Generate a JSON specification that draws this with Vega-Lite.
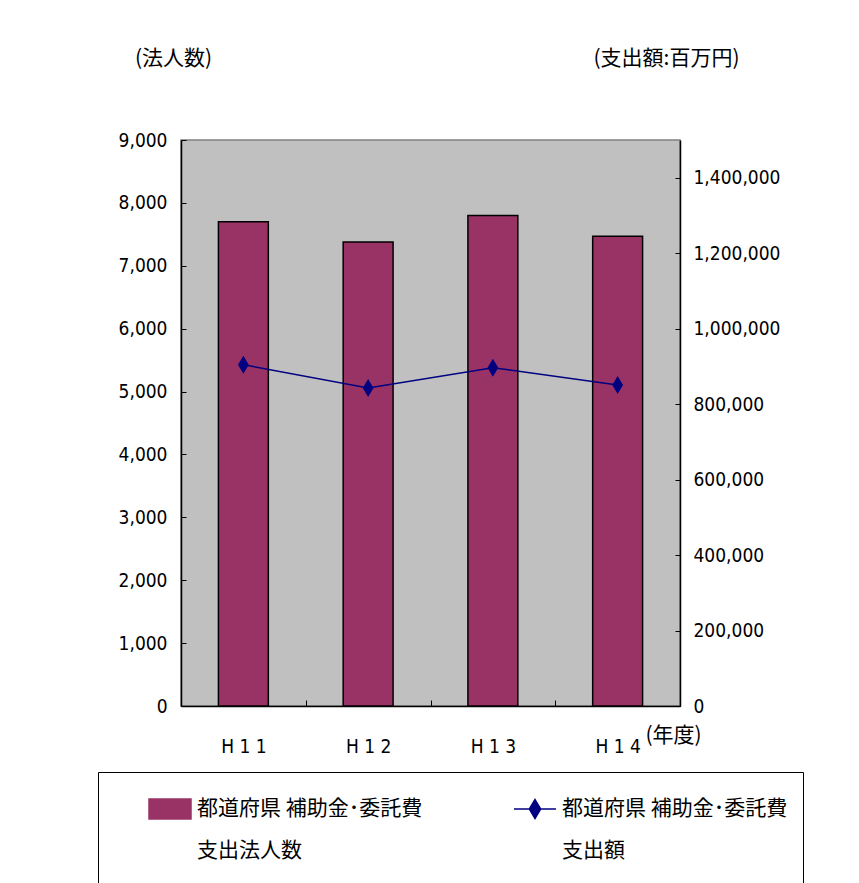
{
  "$schema": "https://vega.github.io/schema/vega-lite/v6.json",
  "width": 499,
  "height": 566,
  "autosize": {"type": "none"},
  "padding": {"left": 181, "top": 140, "right": 179, "bottom": 177},
  "background": "white",
  "config": {
    "view": {"fill": "#C0C0C0", "stroke": "#808080", "strokeWidth": 1.5},
    "style": {"guide-label": {"lineHeight": 42}},
    "axis": {
      "labelFont": "Liberation Sans Narrow, DejaVu Sans Condensed, sans-serif",
      "labelFontSize": 19,
      "labelColor": "black",
      "titleFont": "Noto Sans CJK JP",
      "titleFontSize": 21,
      "titleFontWeight": "normal",
      "titleColor": "black",
      "domainColor": "black",
      "domainWidth": 1.5,
      "tickColor": "black",
      "tickWidth": 1,
      "grid": false
    },
    "legend": {
      "symbolSize": 1764,
      "symbolStrokeWidth": 1.5
    }
  },
  "data": {
    "values": [
      {"year": "H11", "count": 7700, "amount": 904500},
      {"year": "H12", "count": 7380, "amount": 842700},
      {"year": "H13", "count": 7800, "amount": 896600},
      {"year": "H14", "count": 7470, "amount": 850700}
    ]
  },
  "encoding": {
    "x": {
      "field": "year",
      "type": "nominal",
      "sort": null,
      "scale": {"paddingInner": 0, "paddingOuter": 0},
      "axis": {
        "title": "(年度)",
        "titleX": 492,
        "titleY": 29,
        "titleAlign": "center",
        "titleBaseline": "middle",
        "labelAngle": 0,
        "labelBaseline": "top",
        "labelExpr": "join(split(datum.label, ''), ' ')",
        "tickBand": "extent",
        "tickSize": -6,
        "labelPadding": 37
      }
    }
  },
  "layer": [
    {
      "mark": {"type": "bar", "width": {"band": 0.4}, "stroke": "black", "strokeWidth": 1.5},
      "encoding": {
        "y": {
          "field": "count",
          "type": "quantitative",
          "scale": {"domain": [0, 9000]},
          "axis": {
            "title": "(法人数)",
            "titleAngle": 0,
            "titleX": -8,
            "titleY": -82,
            "titleAlign": "center",
            "titleBaseline": "middle",
            "values": [0, 1000, 2000, 3000, 4000, 5000, 6000, 7000, 8000, 9000],
            "format": ",.0f",
            "tickSize": -5,
            "labelPadding": 19
          }
        },
        "color": {
          "datum": "支出法人数",
          "scale": {"domain": ["支出法人数", "支出額"], "range": ["#993366", "#000080"]},
          "legend": {
            "title": null,
            "orient": "none",
            "legendX": -83,
            "legendY": 632,
            "direction": "horizontal",
            "columns": 2,
            "columnPadding": 55,
            "padding": 15,
            "strokeColor": "black",
            "fillColor": "white",
            "symbolSize": 1764,
            "symbolOffset": 35,
            "symbolStrokeWidth": 1.5,
            "labelOffset": 5,
            "labelFont": "Noto Sans CJK JP",
            "labelFontSize": 21,
            "labelColor": "black",
            "labelLimit": 0,
            "labelExpr": "datum.label == '支出法人数' ? ['都道府県 補助金･委託費', '支出法人数', ''] : ['都道府県 補助金･委託費', '支出額', '']"
          }
        }
      }
    },
    {
      "encoding": {
        "y": {
          "field": "amount",
          "type": "quantitative",
          "scale": {"domain": [0, 1500000]},
          "axis": {
            "orient": "right",
            "title": "(支出額:百万円)",
            "titleAngle": 0,
            "titleX": -14,
            "titleY": -82,
            "titleAlign": "center",
            "titleBaseline": "middle",
            "values": [0, 200000, 400000, 600000, 800000, 1000000, 1200000, 1400000],
            "format": ",.0f",
            "tickSize": -5,
            "labelPadding": 18
          }
        },
        "color": {"datum": "支出額"}
      },
      "layer": [
        {"mark": {"type": "line", "strokeWidth": 1.5}},
        {
          "mark": {"type": "point", "filled": true, "opacity": 1, "size": 1600},
          "encoding": {
            "shape": {
              "datum": "支出額",
              "scale": {
                "domain": ["支出法人数", "支出額"],
                "range": ["M-1,-0.476H1V0.476H-1Z", "M-1,0H1M0,-0.45L0.27,0L0,0.45L-0.27,0Z"]
              }
            }
          }
        }
      ]
    }
  ],
  "resolve": {"scale": {"y": "independent"}}
}
